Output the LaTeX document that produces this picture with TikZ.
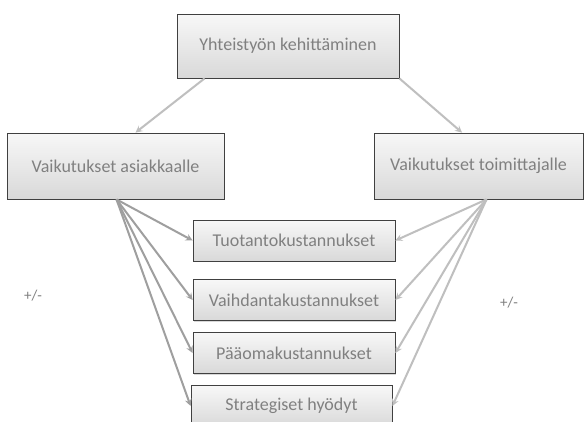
\documentclass[tikz,border=0pt]{standalone}
\usepackage{fontspec}
\setmainfont{Carlito}
\usetikzlibrary{arrows,shapes,calc,shadows}

\definecolor{boxtext}{HTML}{808080}
\definecolor{boxline}{HTML}{404040}

\begin{document}
\begin{tikzpicture}[x=1pt,y=-1pt,>=stealth,
  block/.style ={rectangle, draw=boxline, line width=0.8pt, top color=gray!6, bottom color=gray!30, text=boxtext, align=center, font=\fontsize{18}{21}\selectfont, inner sep=0pt, drop shadow={shadow xshift=1.2pt, shadow yshift=-1.2pt, opacity=0.3}},
  link/.style ={line width=2pt, ->, color=gray!75},
  linkb/.style ={line width=2pt, ->, color=gray!50}]
\clip (0,0) rectangle (585,421);
\fill[white] (0,0) rectangle (585,421);
\draw (288,46) node[block, minimum width=222pt, minimum height=64pt] (Yht) {Yhteistyön kehittäminen};
\draw (115.5,166) node[block, minimum width=217pt, minimum height=66pt] (Asiak) {Vaikutukset asiakkaalle};
\draw (478.5,166) node[block, minimum width=209pt, minimum height=66pt] (Toim) {Vaikutukset toimittajalle};
\draw (294,240.5) node[block, minimum width=202pt, minimum height=41pt] (Tuot) {Tuotantokustannukset};
\draw (294,300) node[block, minimum width=202pt, minimum height=41pt] (Vaih) {Vaihdantakustannukset};
\draw (294,353) node[block, minimum width=202pt, minimum height=41pt] (Paao) {Pääomakustannukset};
\draw (291.5,406) node[block, minimum width=201pt, minimum height=41pt] (Strat) {Strategiset hyödyt};
\draw (33,296) node[text=boxtext, font=\fontsize{15}{18}\selectfont] (pmA) {+/-};
\draw (509,303) node[text=boxtext, font=\fontsize{15}{18}\selectfont] (pmT) {+/-};
\draw [linkb] ([xshift=28pt]Yht.south west) -- ([xshift=20pt]Asiak.north);
\draw [linkb] (Yht.south east) -- ([xshift=-16.5pt]Toim.north);
\draw [link] ([xshift=1pt]Asiak.south) -- (Tuot.west);
\draw [link] ([xshift=1pt]Asiak.south) -- (Vaih.west);
\draw [link] ([xshift=1pt]Asiak.south) -- (Paao.west);
\draw [link] ([xshift=1pt]Asiak.south) -- (Strat.west);
\draw [linkb] ([xshift=8pt]Toim.south) -- (Tuot.east);
\draw [linkb] ([xshift=8pt]Toim.south) -- (Vaih.east);
\draw [linkb] ([xshift=8pt]Toim.south) -- (Paao.east);
\draw [linkb] ([xshift=8pt]Toim.south) -- (Strat.east);

\end{tikzpicture}
\end{document}
